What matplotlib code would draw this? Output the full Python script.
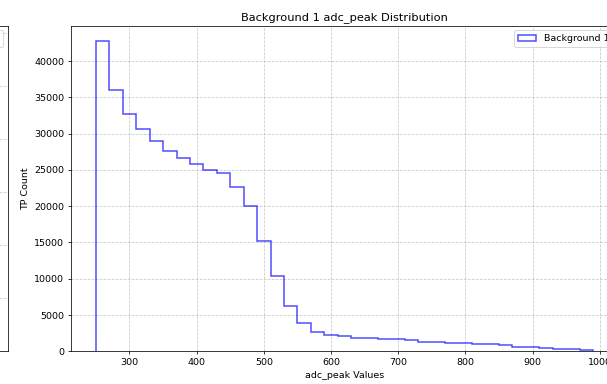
import numpy as np
import matplotlib
matplotlib.use("Agg")
import matplotlib.pyplot as plt
from matplotlib.patches import Patch
from matplotlib.ticker import MultipleLocator, FixedLocator

# adc_peak histogram for background 1, 20-wide bins from 250 to 990
bin_edges = np.arange(250, 991, 20)
bin_counts = [42750, 36050, 32700, 30600, 28950, 27600, 26700, 25850, 25000,
              24600, 22700, 20100, 15200, 10400, 6250, 3850, 2620, 2280, 2150,
              1850, 1780, 1720, 1630, 1490, 1310, 1270, 1210, 1130, 1030, 940,
              850, 620, 610, 420, 320, 310, 180]
series_label = "Background 1"

DPI = 68
W, H = 607, 384
fig = plt.figure(figsize=(W / DPI, H / DPI), dpi=DPI)

# axes boxes in pixels: left, bottom(from top), right, top
ax_l, ax_r, ax_t, ax_b = 71, 618, 25.7, 351.3
ax_w = ax_r - ax_l
rect = [ax_l / W, 1 - ax_b / H, ax_w / W, (ax_b - ax_t) / H]

# neighbouring panel, only its right edge falls inside the figure
left_rect = [(7.5 - ax_w) / W, rect[1], rect[2], rect[3]]
ax0 = fig.add_axes(left_rect)
ax0.set_xlim(211.7, 1030)
ax0.set_ylim(0, 61450)
ax0.yaxis.set_major_locator(MultipleLocator(10000))
ax0.xaxis.set_major_locator(FixedLocator([1000]))
ax0.tick_params(axis="y", labelleft=False)
ax0.grid(True, linestyle="--", alpha=0.7)
ax0.legend(handles=[Patch(fill=False, edgecolor="blue", alpha=0.7)],
           labels=["Background 0"], loc="upper right")

ax = fig.add_axes(rect)
ax.hist(bin_edges[:-1], bins=bin_edges, weights=bin_counts, histtype="step",
        color="blue", alpha=0.7, linewidth=1.6, label=series_label)
ax.set_title("Background 1 adc_peak Distribution")
ax.set_xlabel("adc_peak Values")
ax.set_ylabel("TP Count")
ax.grid(True, linestyle="--", alpha=0.7)
ax.legend(loc="upper right")

fig.savefig("out.png", dpi=DPI)
